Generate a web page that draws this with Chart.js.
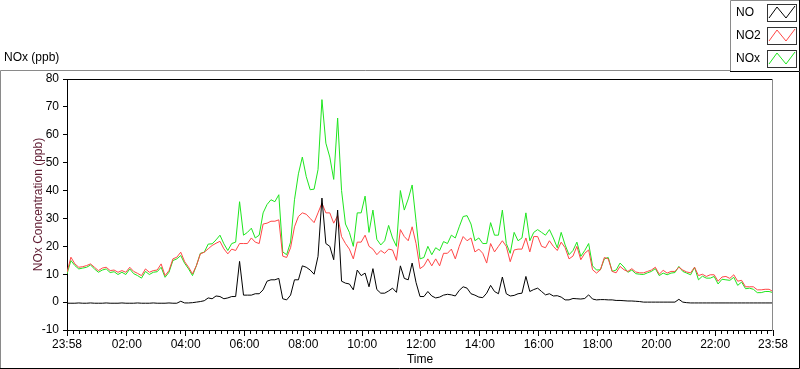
<!DOCTYPE html>
<html>
<head>
<meta charset="utf-8">
<script src="https://cdn.jsdelivr.net/npm/chart.js@4.4.1/dist/chart.umd.min.js"></script>
<style>
  html, body { margin: 0; padding: 0; background: #ffffff; }
  #wrap { width: 800px; height: 369px; }
</style>
</head>
<body>
<div id="wrap"><canvas id="c" width="800" height="369"></canvas></div>
<script>
// ---- data (one sample every 8 minutes starting 23:58) ----
const sampleStepMinutes = 8;
const sampleMinutes = Array.from({length: 181}, (_, i) => i * sampleStepMinutes);

const seriesNames = ["NO", "NO2", "NOx"];

const noValues = [
  -0.4,-0.4,-0.4,-0.3,-0.4,-0.4,-0.3,-0.4,-0.4,-0.4,
  -0.3,-0.4,-0.4,-0.4,-0.3,-0.4,-0.4,-0.4,-0.3,-0.4,
  -0.4,-0.4,-0.3,-0.4,-0.4,-0.4,-0.3,-0.4,-0.4,0.3,
  -0.3,-0.3,-0.2,0,0.2,0.5,1.5,1.2,2.2,2.0,
  1.2,1.5,2,2,14.6,2.5,2.5,2.5,3,3,
  4.4,7.5,8,8,8.5,1.2,0.8,2.5,8,8,
  13,12.5,11.5,10,16.4,37.3,21,20,15.2,33,
  7.5,6.8,6.5,4.4,11.5,9.5,10.4,5.5,12,4.5,
  3.2,3.2,4,5,3.5,13,8.5,8,14,7,
  2,2,3.8,2.2,1.5,1.8,2.5,2.8,2.6,2.2,
  4.2,5.5,5,3,2.5,1.8,1.6,3.2,6,3.8,
  3,9,3,2.2,2.4,3,3.2,9.2,3.8,4.5,
  5,3.8,2.6,3,2.2,2.3,1.8,0.8,0.8,1.3,
  1.2,1.1,1.3,2.6,1.1,0.8,0.9,0.9,0.8,0.8,
  0.6,0.6,0.5,0.4,0.4,0.3,0.2,0,0,0,
  0,0,0,0,0,0,1.0,0,-0.2,-0.3,
  -0.3,-0.3,-0.3,-0.3,-0.3,-0.3,-0.3,-0.3,-0.3,-0.3,
  -0.3,-0.3,-0.3,-0.3,-0.3,-0.3,-0.3,-0.3,-0.3,-0.3,
  -0.3
];

const no2Values = [
  10.7,16.1,13.7,12.5,12.7,13.1,13.7,12.5,11.3,12.2,
  12.5,11.3,11.5,10.7,11.3,10.7,12.5,11.0,10.3,9.5,
  11.9,10.7,11.3,11.5,13.7,9.5,11.3,15.5,16.1,17.9,
  14.5,12.5,10.1,13.1,17.3,17.9,19.1,20.3,21.1,21.8,
  19.1,17.3,19,18.5,21,21,21,23,21.5,21,
  28,28.3,29,29,29.5,16.5,16,19.5,27,30.7,
  32,31.5,30,28.5,32,35.5,32,32,28.3,31,
  23.5,21,19,15.5,21.5,21.5,24,20,19,17,
  18.5,17.5,19,18.7,15,26,23.5,22,27,21,
  12,13,15.5,13,15.5,13,17.5,17.5,19,15.5,
  20,23.5,22,23,18,19,17.5,14,21,18,
  20,22,20,14.5,18.7,19,19,23,18,23.5,
  23.5,20,19.5,22,20,18.5,21.5,19.5,15.5,16.5,
  20,15.2,17.5,18.7,11.6,10.4,11.6,16,15.5,11,
  10.5,12.8,11.6,11,12,10.8,10.5,10.5,11,11.5,
  12.5,10,11.4,10.4,11,11,12.5,11.5,10.8,10.5,
  12.5,9.5,10,9.2,9.8,9.8,7.5,9,9.2,8.5,
  9.8,7.5,7.8,5.5,5.5,5.5,4.4,4.4,4.6,4.6,
  3.8
];

const noxValues = [
  10.1,14.9,13.1,11.9,12.2,12.5,13.3,11.9,10.7,11.5,
  11.9,10.6,10.9,9.9,10.7,9.9,11.9,10.2,9.5,8.6,
  11.0,9.9,10.7,10.9,12.5,8.9,10.7,14.9,15.5,16.7,
  13.9,11.9,9.5,13.1,17.5,17.9,20.8,20.9,22.3,24,
  20.9,18.5,21,21.5,36,24,25,26.5,23,24,
  32,35,36.7,36,38.5,18,17,21.5,36.7,46,
  52,45,40.3,40.5,47.5,72.6,57,52,44,66,
  40,28,25,20,32,32,38,25,33,22.5,
  20.5,22,27.5,23,20,40,33,37,42,29,
  15.5,16,20,17,19.5,18.5,21.7,21,24,23,
  27,30.7,31,28,22,23,21,21,28.5,24,
  24,33,21,17.5,25,22,23,32,22,25,
  26,25,24,26,23,19.5,25,20.5,17,18.5,
  21.5,16.4,18.5,21,13,11.5,11.6,15.5,16,11,
  11.5,14,12.6,10.7,11.5,10.2,10,9.9,10.5,11,
  12,9.5,10.4,9.8,10.4,10.6,12.8,11,10.4,9.8,
  12.5,8,9.3,8.6,8.6,9.2,6.5,8.2,8,7.8,
  8.9,6,7.2,4.8,5,4.6,3.4,3.4,3.8,3.8,
  3.4
];

// axis ticks
const xTickMinutes = [0, 122, 242, 362, 482, 602, 722, 842, 962, 1082, 1202, 1322, 1440];
const xTickLabels = ["23:58","02:00","04:00","06:00","08:00","10:00","12:00","14:00","16:00","18:00","20:00","22:00","23:58"];
const yMin = -10, yMax = 80, yStep = 10;

const seriesColors = ["#000000", "#ff4646", "#1ee61e"];

// ---- chart ----
const FONT = "'Liberation Sans', Arial, sans-serif";

function toPoints(values) {
  return values.map((v, i) => ({x: sampleMinutes[i], y: v}));
}

const framePlugin = {
  id: 'framePlugin',
  beforeDraw(chart) {
    const ctx = chart.ctx;
    ctx.save();
    ctx.fillStyle = '#ffffff';
    ctx.fillRect(0, 0, chart.width, chart.height);
    ctx.restore();
  },
  afterDraw(chart) {
    const ctx = chart.ctx;
    const a = chart.chartArea;
    const xs = chart.scales.x;
    ctx.save();
    ctx.lineWidth = 1;

    // plot frame: top (black) and right (gray)
    ctx.strokeStyle = '#000000';
    ctx.beginPath();
    ctx.moveTo(Math.round(a.left), Math.round(a.top) + 0.5);
    ctx.lineTo(Math.round(a.right), Math.round(a.top) + 0.5);
    ctx.stroke();
    ctx.strokeStyle = '#8a8a8a';
    ctx.beginPath();
    ctx.moveTo(Math.round(a.right) - 0.5, Math.round(a.top));
    ctx.lineTo(Math.round(a.right) - 0.5, Math.round(a.bottom) + 1);
    ctx.stroke();

    // minor ticks on the time axis (10 divisions between major ticks)
    ctx.strokeStyle = '#000000';
    ctx.beginPath();
    for (let k = 0; k < xTickMinutes.length - 1; k++) {
      const m0 = xTickMinutes[k], m1 = xTickMinutes[k + 1];
      for (let j = 1; j < 10; j++) {
        const px = Math.round(xs.getPixelForValue(m0 + (m1 - m0) * j / 10)) + 0.5;
        ctx.moveTo(px, Math.round(a.bottom));
        ctx.lineTo(px, Math.round(a.bottom) + 4);
      }
    }
    ctx.stroke();

    // outer panel frame
    ctx.strokeStyle = '#8a8a8a';
    ctx.beginPath();
    ctx.moveTo(0.5, 369);
    ctx.lineTo(0.5, 70.5);
    ctx.lineTo(730, 70.5);
    ctx.stroke();
    ctx.strokeStyle = '#000000';
    ctx.beginPath();
    ctx.moveTo(799.5, 72);
    ctx.lineTo(799.5, 368.5);
    ctx.lineTo(0, 368.5);
    ctx.stroke();

    // plot name
    ctx.fillStyle = '#000000';
    ctx.font = '12px ' + FONT;
    ctx.textAlign = 'left';
    ctx.textBaseline = 'middle';
    ctx.fillText('NOx (ppb)', 4, 58);

    // legend box
    ctx.strokeStyle = '#8a8a8a';
    ctx.beginPath();
    ctx.moveTo(730.5, 72);
    ctx.lineTo(730.5, 0.5);
    ctx.lineTo(800, 0.5);
    ctx.stroke();
    ctx.strokeStyle = '#000000';
    ctx.beginPath();
    ctx.moveTo(799.5, 0);
    ctx.lineTo(799.5, 71.5);
    ctx.lineTo(730, 71.5);
    ctx.stroke();

    chart.data.datasets.forEach((ds, i) => {
      const cy = 13 + i * 23;
      ctx.fillStyle = '#000000';
      ctx.font = '12px ' + FONT;
      ctx.textAlign = 'left';
      ctx.textBaseline = 'middle';
      ctx.fillText(ds.label, 736, cy);
      // swatch box
      ctx.strokeStyle = '#333333';
      ctx.strokeRect(767.5, cy - 8.5, 29, 17);
      ctx.strokeStyle = ds.borderColor;
      ctx.beginPath();
      ctx.moveTo(769, cy + 5);
      ctx.lineTo(777, cy - 6);
      ctx.lineTo(786, cy + 5);
      ctx.lineTo(795, cy - 7);
      ctx.stroke();
    });

    ctx.restore();
  }
};

const ctx = document.getElementById('c').getContext('2d');
new Chart(ctx, {
  type: 'line',
  data: {
    datasets: [
      {label: seriesNames[0], data: toPoints(noValues), borderColor: seriesColors[0]},
      {label: seriesNames[1], data: toPoints(no2Values), borderColor: seriesColors[1]},
      {label: seriesNames[2], data: toPoints(noxValues), borderColor: seriesColors[2]}
    ].map(d => Object.assign(d, {borderWidth: 1, pointRadius: 0, tension: 0, fill: false}))
  },
  options: {
    responsive: false,
    animation: false,
    events: [],
    layout: {padding: {top: 79, right: 27, left: 0, bottom: 0}},
    plugins: {legend: {display: false}, tooltip: {enabled: false}, title: {display: false}},
    scales: {
      x: {
        type: 'linear',
        min: 0,
        max: 1440,
        afterBuildTicks: (scale) => { scale.ticks = xTickMinutes.map(v => ({value: v})); },
        afterFit: (scale) => { scale.height = 39; },
        ticks: {
          autoSkip: false,
          maxRotation: 0,
          padding: 1,
          color: '#000000',
          font: {family: FONT, size: 12},
          callback: (v) => { const k = xTickMinutes.indexOf(v); return k >= 0 ? xTickLabels[k] : ''; }
        },
        grid: {drawOnChartArea: false, drawTicks: true, tickLength: 6, color: '#000000'},
        border: {display: true, color: '#000000'},
        title: {display: true, text: 'Time', color: '#000000', font: {family: FONT, size: 12}, padding: {top: 0, bottom: 2}}
      },
      y: {
        type: 'linear',
        min: yMin,
        max: yMax,
        afterFit: (scale) => { scale.width = 67; },
        ticks: {stepSize: yStep, padding: 4, color: '#000000', font: {family: FONT, size: 12}},
        grid: {drawOnChartArea: false, drawTicks: true, tickLength: 4, color: '#000000'},
        border: {display: true, color: '#000000'},
        title: {display: true, text: 'NOx Concentration (ppb)', color: '#5e1a30', font: {family: FONT, size: 12}, padding: {top: 31, bottom: 0}}
      }
    }
  },
  plugins: [framePlugin]
});
</script>
</body>
</html>
